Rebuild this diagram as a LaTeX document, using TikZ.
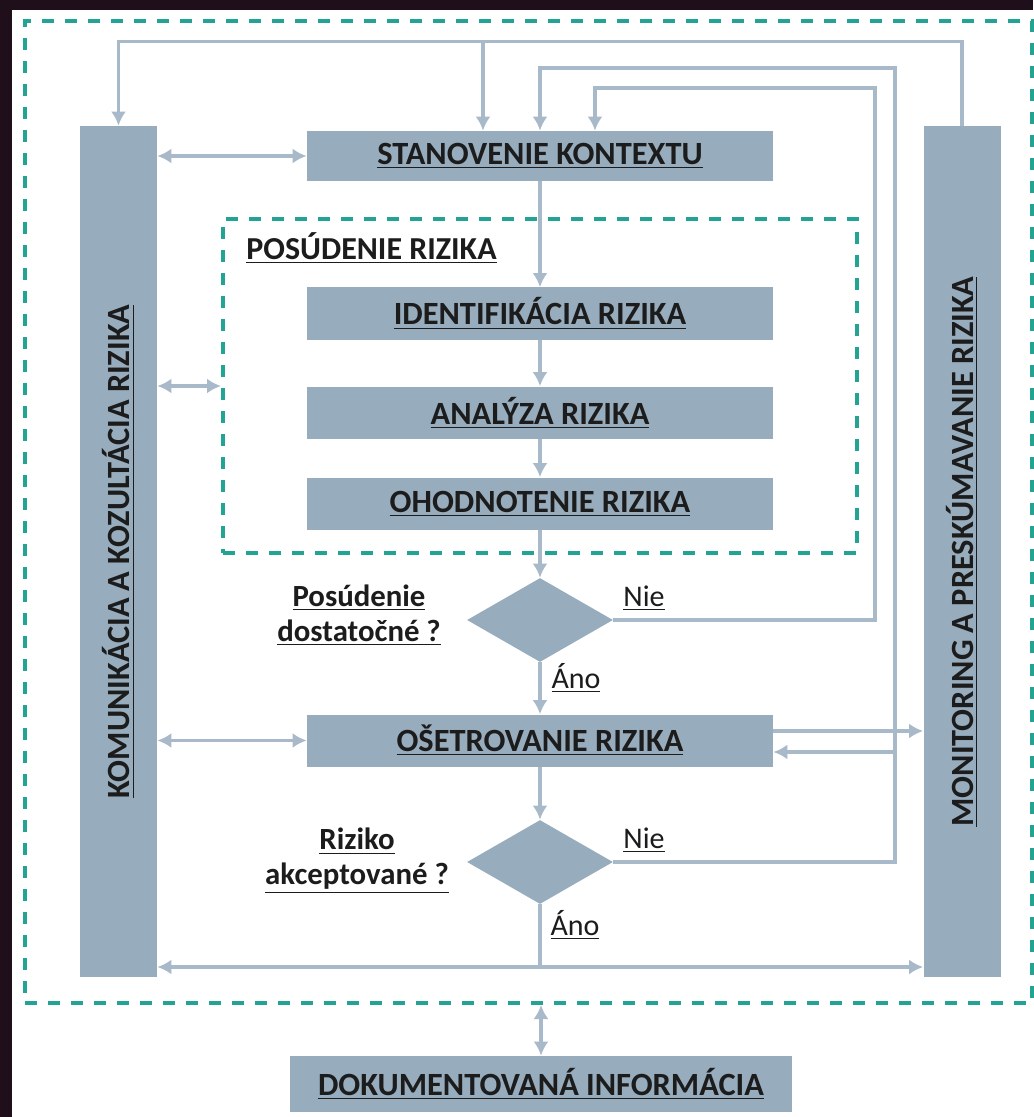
\documentclass[tikz,border=0pt]{standalone}
\usepackage{fontspec}
\setmainfont{Carlito}
\usepackage{xcolor}
\usepackage{tikz}
\usetikzlibrary{calc, shapes.geometric, positioning, arrows.meta}

\definecolor{boxfill}{HTML}{97ACBD}
\definecolor{linka}{HTML}{A8BACA}
\definecolor{tyrkys}{HTML}{22A393}
\definecolor{ramik}{HTML}{1F0F1A}
\definecolor{pismo}{HTML}{1C1C1C}

\begin{document}
\begin{tikzpicture}[x=0.5pt, y=-0.5pt, >={Latex[length=7pt,width=7.5pt]},
    krok/.style={fill=boxfill, minimum width=233pt, minimum height=26pt, inner sep=0pt,
        font=\fontsize{16.2}{18}\selectfont\bfseries, text=pismo},
    stlpec/.style={fill=boxfill, minimum width=38.5pt, minimum height=425.5pt, inner sep=0pt,
        font=\fontsize{16.2}{18}\selectfont\bfseries, text=pismo},
    otazka/.style={diamond, fill=boxfill, minimum width=73pt, minimum height=42pt, inner sep=0pt},
    spoj/.style={draw=linka, line width=1.8pt},
    ciarka/.style={draw=tyrkys, line width=2pt, dash pattern=on 6pt off 5.5pt},
    otazkatxt/.style={align=center, inner sep=0pt, text=pismo,
        font=\fontsize{15.4}{17.5}\selectfont\bfseries},
    odpoved/.style={inner sep=0pt, text=pismo, font=\fontsize{15}{18}\selectfont}]
    \useasboundingbox (0,0) rectangle (1033,1117);
    % tmavy okraj obrazka
    \fill[ramik] (0,0) rectangle (1033,1117);
    \fill[white] (12,10) rectangle (1033,1117);

    % ramce s ciarkovanym okrajom
    \node[ciarka, minimum width=503.5pt, minimum height=491pt, inner sep=0pt] (ramec) at (528.5,512) {};
    \node[ciarka, minimum width=317pt, minimum height=167pt, inner sep=0pt] (posud) at (540,386) {};
    \node[otazkatxt, font=\fontsize{16}{18}\selectfont\bfseries, anchor=west] (posudtxt) at (246,248) {\underline{POSÚDENIE RIZIKA}};

    % bocne stlpce
    \node[stlpec] (komun) at (118.5,551.5) {\rotatebox{90}{\underline{KOMUNIKÁCIA A KOZULTÁCIA RIZIKA}}};
    \node[stlpec] (monit) at (962,551.5) {\rotatebox{90}{\underline{MONITORING A PRESKÚMAVANIE RIZIKA}}};

    % kroky procesu
    \node[krok, minimum height=25pt] (kontext) at (540,156) {\underline{STANOVENIE KONTEXTU}};
    \node[krok] (ident) at (540,313.5) {\underline{IDENTIFIKÁCIA RIZIKA}};
    \node[krok] (analyza) at (540,412.5) {\underline{ANALÝZA RIZIKA}};
    \node[krok] (ohodnot) at (540,503.5) {\underline{OHODNOTENIE RIZIKA}};
    \node[otazka] (q1) at (540,620) {};
    \node[krok] (osetr) at (540,740.5) {\underline{OŠETROVANIE RIZIKA}};
    \node[otazka] (q2) at (540,862) {};
    \node[krok, minimum width=251pt, minimum height=28pt] (dokument) at (541,1084) {\underline{DOKUMENTOVANÁ INFORMÁCIA}};

    % popisy rozhodnuti
    \node[otazkatxt] (q1txt) at (359,615) {\underline{Posúdenie}\\\underline{dostatočné ?}};
    \node[otazkatxt] (q2txt) at (357,861) {\underline{Riziko}\\\underline{akceptované ?}};
    \node[odpoved] (nie1) at (644,598) {\underline{Nie}};
    \node[odpoved] (ano1) at (576,678) {\underline{Áno}};
    \node[odpoved] (nie2) at (644,840) {\underline{Nie}};
    \node[odpoved] (ano2) at (575,925) {\underline{Áno}};

    % pomocne body
    \coordinate (odb) at (483,42);
    \coordinate (s1) at (875,88);
    \coordinate (k1) at (595,88);
    \coordinate (s2) at (895,68);
    \coordinate (o1) at (773,731);
    \coordinate (o2) at (895,752);
    \coordinate (spodok) at (540,967);

    % hlavny tok
    \draw[spoj, ->] (kontext) -- (ident);
    \draw[spoj, ->] (ident) -- (analyza);
    \draw[spoj, ->] (analyza) -- (ohodnot);
    \draw[spoj, ->] (ohodnot) -- (q1);
    \draw[spoj, ->] (q1) -- (osetr);
    \draw[spoj, ->] (osetr) -- (q2);
    \draw[spoj] (q2.south) -- (spodok);

    % spatne vazby
    \draw[spoj, ->] (q1.east) -| (s1) -- (k1) -- (k1 |- kontext.north);
    \draw[spoj, ->] (q2.east) -| (s2) -| (kontext.north);
    \draw[spoj, ->] (monit.north) -- ++(0,-84) -| (komun.north);
    \draw[spoj, ->] (odb) -- (odb |- kontext.north);
    \draw[spoj, ->] (o1) -- (o1 -| monit.west);
    \draw[spoj, ->] (o2) -- (o2 -| osetr.east);

    % komunikacia a monitoring
    \draw[spoj, <->] (komun.east |- kontext) -- (kontext.west);
    \draw[spoj, <->] (komun.east |- posud.west) -- (posud.west);
    \draw[spoj, <->] (komun.east |- osetr) -- (osetr.west);
    \draw[spoj, <->] (komun.east |- spodok) -- (monit.west |- spodok);
    \draw[spoj, <->] (dokument.north |- ramec.south) -- (dokument.north);
\end{tikzpicture}
\end{document}
